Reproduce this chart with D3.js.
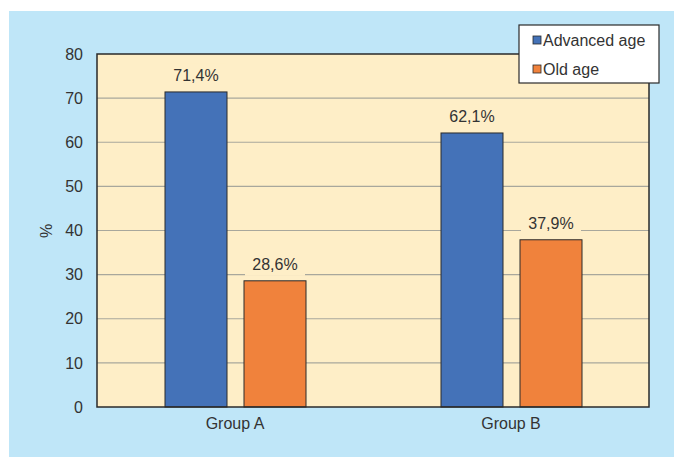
<!DOCTYPE html>
<html><head><meta charset="utf-8">
<script src="https://cdn.jsdelivr.net/npm/d3@7"></script>
<style>body{margin:0;background:#fff;font-family:"Liberation Sans",Arial,sans-serif;}</style>
</head><body>
<svg id="c" width="674" height="458"></svg>
<script>
const groups = ["Group A", "Group B"];
const seriesNames = ["Advanced age", "Old age"];
const advanced = [71.4, 62.1];
const oldAge = [28.6, 37.9];
const yTicks = [0, 10, 20, 30, 40, 50, 60, 70, 80];
const colors = ["#4472B8", "#F0823C"];
const FS = 16;

const svg = d3.select("#c");
svg.append("rect").attr("x", 9).attr("y", 11).attr("width", 665).attr("height", 446).attr("fill", "#BFE6F8");

const m = {l: 97, r: 649, t: 54, b: 407};
const x = d3.scaleBand().domain(groups).range([m.l, m.r]);
const y = d3.scaleLinear().domain([0, 80]).range([m.b, m.t]);

svg.append("rect").attr("x", m.l).attr("y", m.t).attr("width", m.r - m.l).attr("height", m.b - m.t).attr("fill", "#FEEEC7");

svg.append("g").selectAll("line").data(yTicks.filter(d => d > 0 && d < 80)).join("line")
  .attr("x1", m.l).attr("x2", m.r).attr("y1", d => y(d)).attr("y2", d => y(d))
  .attr("stroke", "#A8A79C").attr("stroke-width", 1.2);

const data = [];
groups.forEach((g, i) => {
  data.push({g, s: seriesNames[0], v: advanced[i], c: colors[0]});
  data.push({g, s: seriesNames[1], v: oldAge[i], c: colors[1]});
});

const bw = 62;
const bx = d => x(d.g) + x.bandwidth() / 2 + (d.s === seriesNames[0] ? -70 : 9);

svg.append("g").selectAll("rect").data(data).join("rect")
  .attr("x", bx).attr("y", d => y(d.v)).attr("width", bw).attr("height", d => y(0) - y(d.v))
  .attr("fill", d => d.c).attr("stroke", "#2a2a2a").attr("stroke-width", 1);

const lab = svg.append("g").selectAll("g").data(data).join("g");
lab.append("rect")
  .attr("x", d => bx(d) + bw / 2 - 30).attr("y", d => y(d.v) - 28).attr("width", 60).attr("height", 23)
  .attr("fill", "#FEEEC7");
lab.append("text")
  .attr("x", d => bx(d) + bw / 2).attr("y", d => y(d.v) - 11)
  .attr("text-anchor", "middle").attr("font-size", FS).attr("fill", "#333")
  .text(d => d.v.toFixed(1).replace(".", ",") + "%");

svg.append("rect").attr("x", m.l).attr("y", m.t).attr("width", m.r - m.l).attr("height", m.b - m.t)
  .attr("fill", "none").attr("stroke", "#2a2a2a").attr("stroke-width", 1.5);

const ya = svg.append("g").attr("transform", `translate(${m.l},0)`)
  .call(d3.axisLeft(y).tickValues(yTicks).tickSize(0).tickPadding(14));
ya.select(".domain").remove();
ya.selectAll("text").attr("font-size", FS).attr("fill", "#333").attr("font-family", "Liberation Sans, Arial, sans-serif");

const xa = svg.append("g").attr("transform", `translate(0,${m.b})`)
  .call(d3.axisBottom(x).tickSize(0).tickPadding(11));
xa.select(".domain").remove();
xa.selectAll("text").attr("font-size", FS).attr("fill", "#333").attr("font-family", "Liberation Sans, Arial, sans-serif");

svg.append("text").attr("transform", "translate(52,231) rotate(-90)").attr("text-anchor", "middle")
  .attr("font-size", FS).attr("fill", "#333").text("%");

const lg = svg.append("g");
lg.append("rect").attr("x", 519).attr("y", 25).attr("width", 140).attr("height", 58)
  .attr("fill", "#fff").attr("stroke", "#2a2a2a").attr("stroke-width", 1.2);
seriesNames.forEach((s, i) => {
  const yy = 40 + i * 29;
  lg.append("rect").attr("x", 533).attr("y", yy - 4).attr("width", 8).attr("height", 8)
    .attr("fill", colors[i]).attr("stroke", "#2a2a2a").attr("stroke-width", 0.8);
  lg.append("text").attr("x", 543).attr("y", yy + 6).attr("font-size", FS).attr("fill", "#333").text(s);
});
</script>
</body></html>
